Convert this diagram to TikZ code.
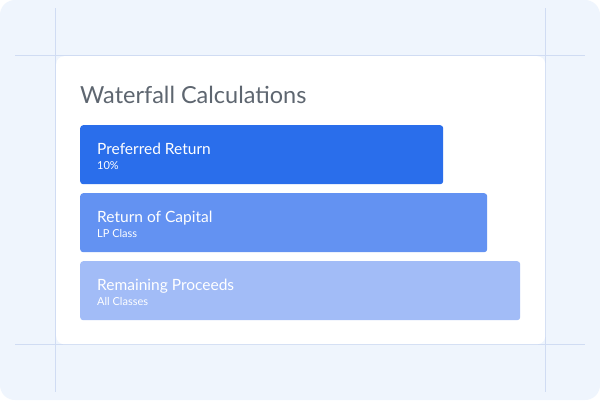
\documentclass[tikz,border=0pt]{standalone}
\usepackage{fontspec}
\setmainfont{Lato}
\usetikzlibrary{positioning}
\definecolor{bgblue}{HTML}{EFF5FD}
\definecolor{guide}{HTML}{D0DCF3}
\definecolor{barA}{HTML}{2A6EEB}
\definecolor{barB}{HTML}{6392F2}
\definecolor{barC}{HTML}{A2BCF7}
\definecolor{titlegrey}{HTML}{5E6670}

\begin{document}
\begin{tikzpicture}[x=1pt, y=-1pt,
    bar/.style = {fill, rounded corners=3pt, anchor=north west, inner sep=0pt, minimum height=59pt},
    head/.style = {anchor=base west, inner sep=0pt, text=white, font=\fontsize{15.5}{18}\selectfont},
    sub/.style = {anchor=base west, inner sep=0pt, text=white, font=\fontsize{11}{13}\selectfont}]
    \useasboundingbox (0,0) rectangle (600,400);
    % background and guides
    \fill[white] (0,0) rectangle (600,400);
    \fill[bgblue, rounded corners=15pt] (0,0) rectangle (600,400);
    \draw[guide, line width=0.8pt] (15,55) -- (585,55);
    \draw[guide, line width=0.8pt] (15,344) -- (585,344);
    \draw[guide, line width=0.8pt] (55,8) -- (55,392);
    \draw[guide, line width=0.8pt] (545,8) -- (545,392);
    % card
    \node[fill=white, rounded corners=8pt, anchor=north west, inner sep=0pt,
          minimum width=489pt, minimum height=288pt] (card) at (56,56) {};
    \node[anchor=base west, inner sep=0pt, text=titlegrey, font=\fontsize{23.5}{28}\selectfont] (title) at (80,103) {Waterfall Calculations};
    % bars
    \node[bar, barA, minimum width=363pt] (pref) at (80,125) {};
    \node[bar, barB, minimum width=407pt] (roc) at (80,193) {};
    \node[bar, barC, minimum width=440pt] (rem) at (80,261) {};
    \node[head] (prefhead) at (97,154) {Preferred Return};
    \node[sub] (prefsub) at (97,169) {10\%};
    \node[head] (rochead) at (97,222) {Return of Capital};
    \node[sub] (rocsub) at (97,237) {LP Class};
    \node[head] (remhead) at (97,290) {Remaining Proceeds};
    \node[sub] (remsub) at (97,305) {All Classes};
\end{tikzpicture}
\end{document}
